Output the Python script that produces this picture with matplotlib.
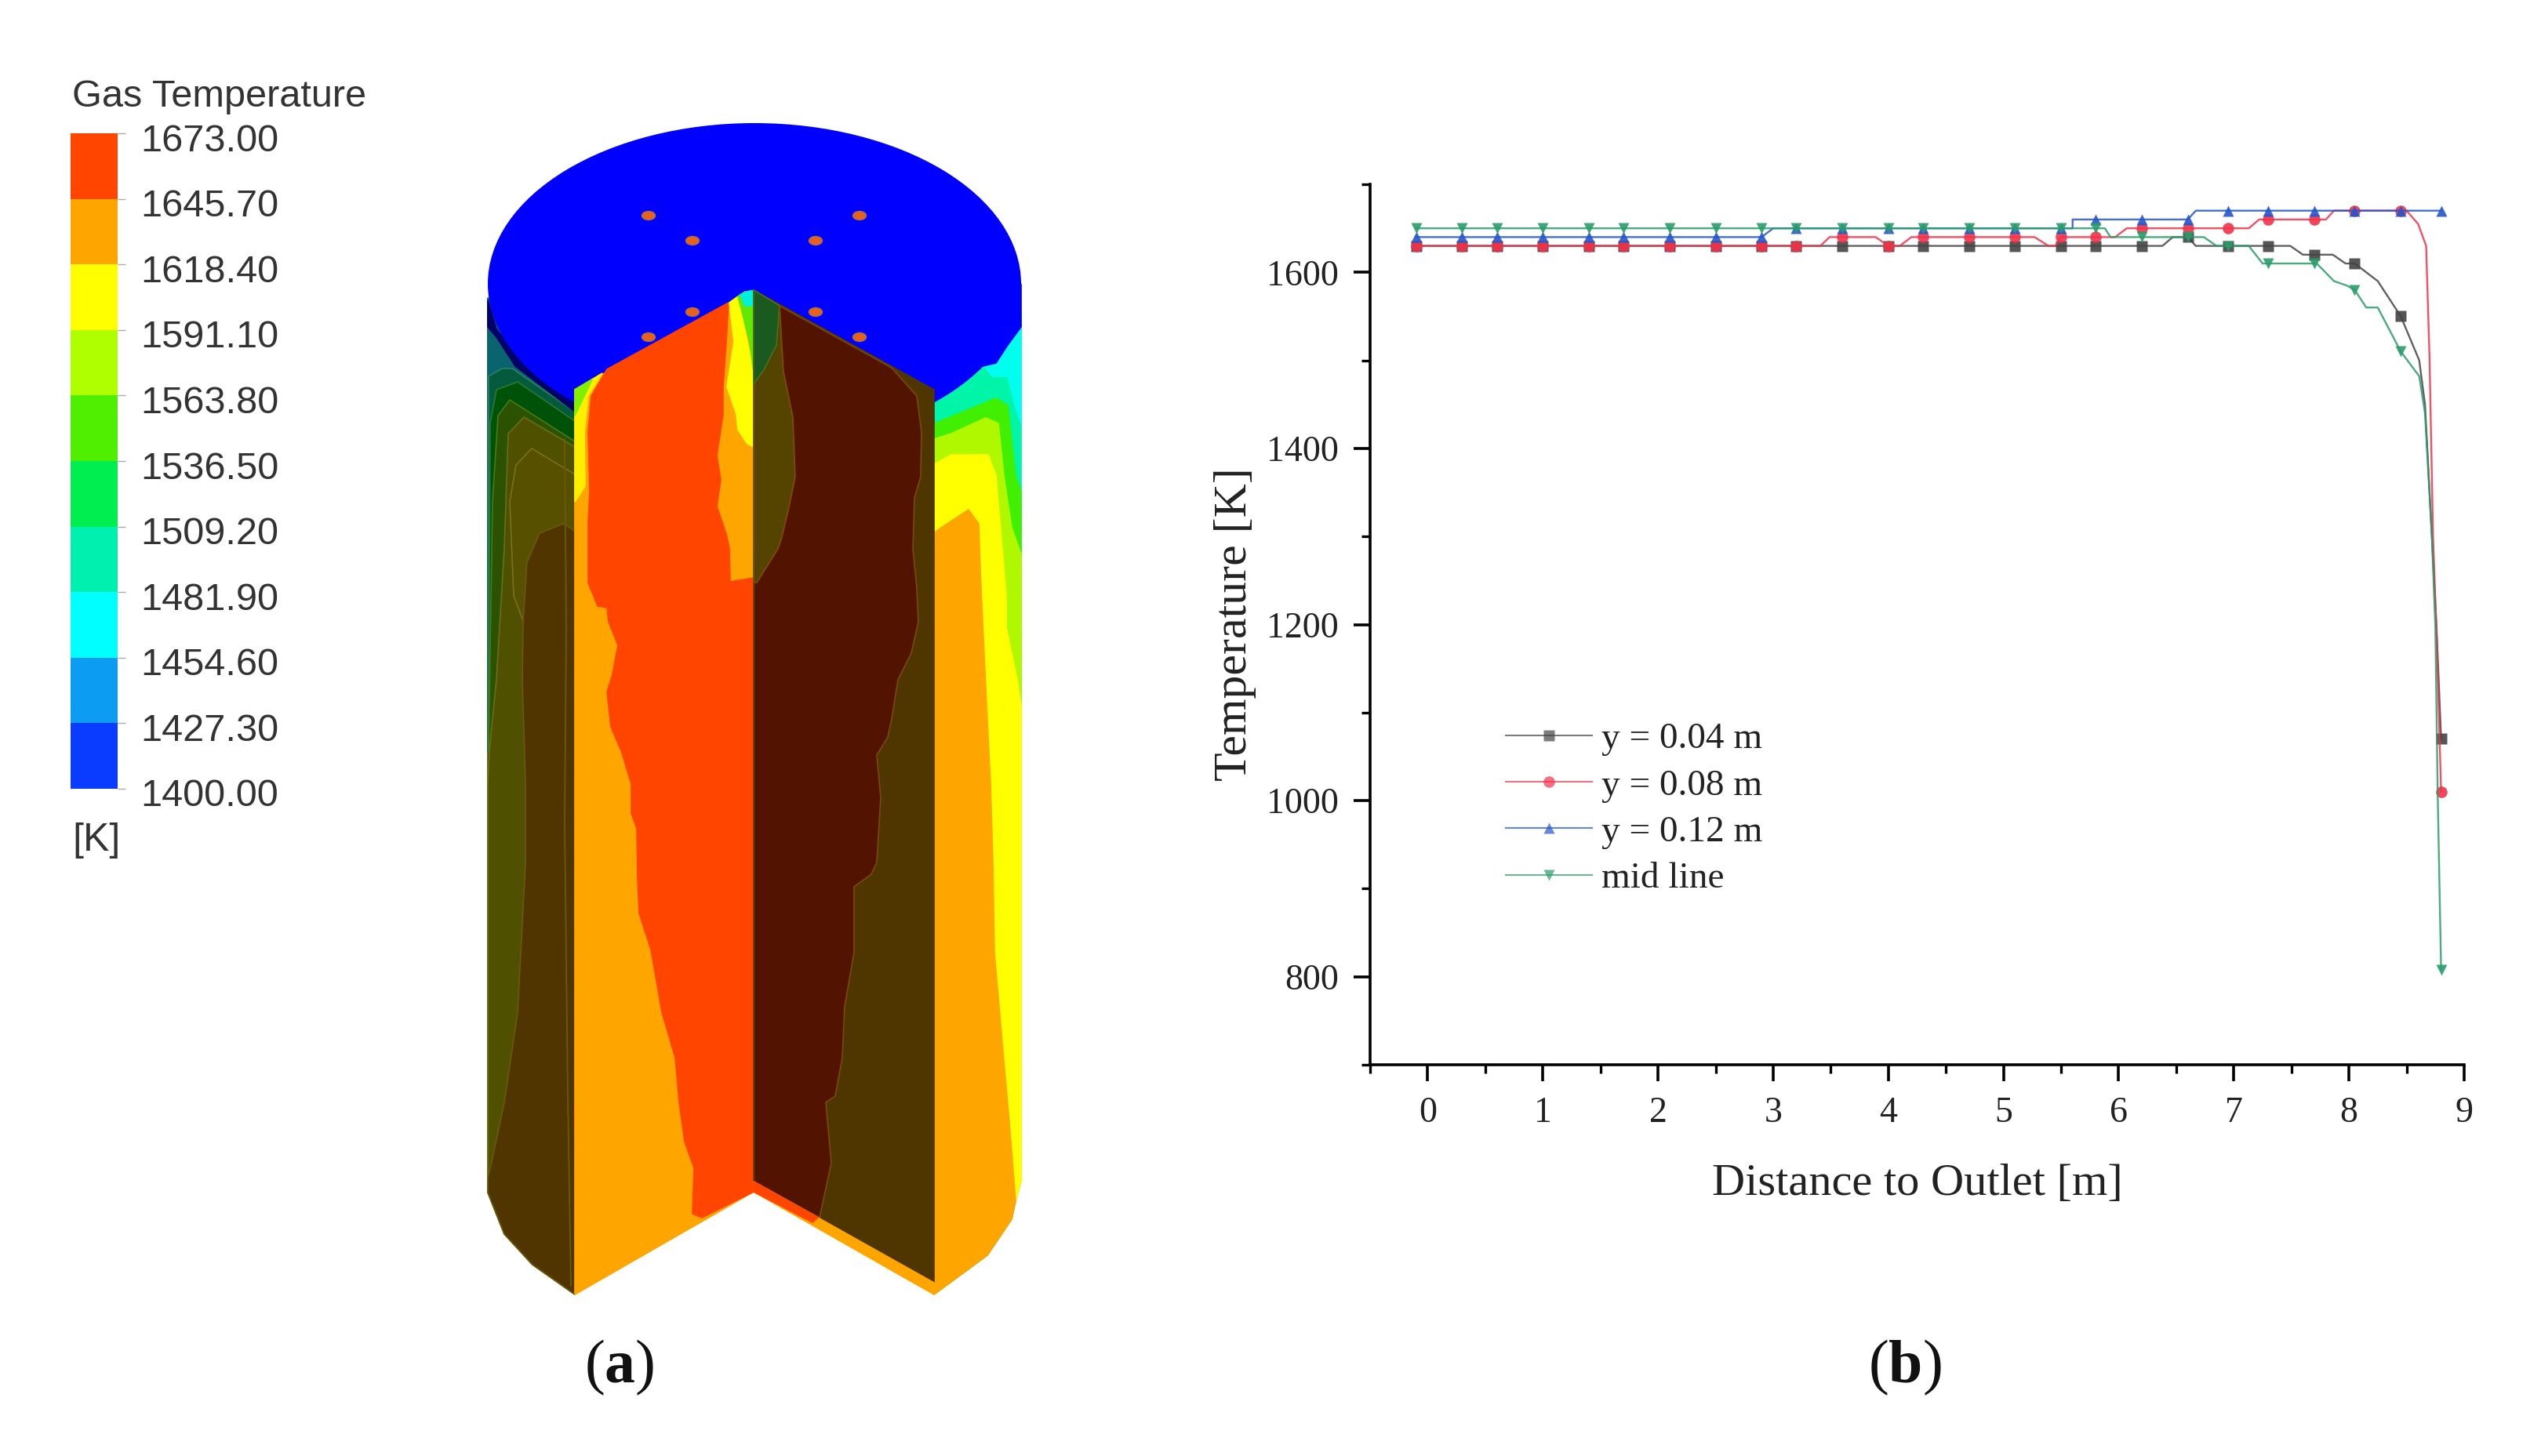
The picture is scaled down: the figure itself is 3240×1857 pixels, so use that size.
import matplotlib
matplotlib.use("Agg")
import matplotlib.pyplot as plt
from matplotlib.colors import ListedColormap, BoundaryNorm
from matplotlib.lines import Line2D
from matplotlib.patches import Ellipse, Polygon
from matplotlib.transforms import ScaledTranslation

W, H = 3241, 1857

plt.rcParams['mathtext.fontset'] = 'custom'
plt.rcParams['mathtext.bf'] = 'Liberation Serif:bold'
plt.rcParams['mathtext.rm'] = 'Liberation Serif'

# ---- colour legend
levels = [1400.0, 1427.3, 1454.6, 1481.9, 1509.2, 1536.5, 1563.8, 1591.1, 1618.4, 1645.7, 1673.0]
level_labels = ['1400.00', '1427.30', '1454.60', '1481.90', '1509.20', '1536.50',
                '1563.80', '1591.10', '1618.40', '1645.70', '1673.00']
band_colors = ['#0a3cff', '#0c9cf2', '#00ffff', '#00f0b0', '#00ee50',
               '#50ee00', '#b0ff00', '#ffff00', '#ffa500', '#ff4500']

# ---- line chart, marker positions
marker_x = [-0.1, 0.3, 0.6, 1.0, 1.4, 1.7, 2.1, 2.5, 2.9, 3.2, 3.6, 4.0, 4.3,
            4.7, 5.1, 5.5, 5.8, 6.2, 6.6, 6.95, 7.3, 7.7, 8.05, 8.45, 8.8]
black_t = [1630, 1630, 1630, 1630, 1630, 1630, 1630, 1630, 1630, 1630, 1630, 1630, 1630,
           1630, 1630, 1630, 1630, 1630, 1640, 1630, 1630, 1620, 1610, 1550, 1070]
red_t = [1630, 1630, 1630, 1630, 1630, 1630, 1630, 1630, 1630, 1630, 1640, 1630, 1640,
         1640, 1640, 1640, 1640, 1650, 1650, 1650, 1660, 1660, 1670, 1670, 1010]
blue_t = [1640, 1640, 1640, 1640, 1640, 1640, 1640, 1640, 1640, 1650, 1650, 1650, 1650,
          1650, 1650, 1650, 1660, 1660, 1660, 1670, 1670, 1670, 1670, 1670, 1670]
green_t = [1650, 1650, 1650, 1650, 1650, 1650, 1650, 1650, 1650, 1650, 1650, 1650, 1650,
           1650, 1650, 1650, 1650, 1640, 1640, 1630, 1610, 1610, 1580, 1510, 808]

# ---- line chart, the stepped lines between the markers
black_line_x = [-0.1, 6.38, 6.47, 6.6, 6.67, 7.49, 7.6, 7.86, 7.97, 8.05, 8.25, 8.45, 8.61, 8.66, 8.72, 8.76, 8.8]
black_line_t = [1630, 1630, 1640, 1640, 1630, 1630, 1620, 1620, 1610, 1610, 1590, 1550, 1500, 1450, 1300, 1197, 1070]
red_line_x = [-0.1, 3.41, 3.49, 3.89, 4.0, 4.1, 4.2, 5.27, 5.39, 5.45, 5.5, 5.97, 6.07, 7.13, 7.22,
              7.8, 7.87, 8.5, 8.6, 8.67, 8.7, 8.73, 8.76, 8.8]
red_line_t = [1630, 1630, 1640, 1640, 1630, 1630, 1640, 1640, 1630, 1630, 1640, 1640, 1650, 1650, 1660,
              1660, 1670, 1670, 1655, 1630, 1500, 1300, 1190, 1010]
blue_line_x = [-0.1, 2.9, 3.0, 5.6, 5.6, 6.6, 6.67, 8.8]
blue_line_t = [1640, 1640, 1650, 1650, 1660, 1660, 1670, 1670]
green_line_x = [-0.1, 5.88, 5.93, 6.74, 6.85, 7.13, 7.25, 7.72, 7.87, 7.98, 8.05, 8.15, 8.25,
                8.45, 8.61, 8.66, 8.72, 8.75, 8.77, 8.8]
green_line_t = [1650, 1650, 1640, 1640, 1630, 1630, 1610, 1610, 1590, 1585, 1580, 1560, 1560,
                1510, 1482, 1440, 1300, 1197, 1010, 808]

series_names = ['y = 0.04 m', 'y = 0.08 m', 'y = 0.12 m', 'mid line']

# ---- contour picture, outlines (pixels)
left_wall = [(622, 380), (733, 490), (733, 1651), (679, 1613), (643, 1574), (622, 1521)]
left_teal = [(622, 380), (733, 490), (733, 720), (622, 960)]
rim = [(622, 383), (633, 420), (667, 463), (733, 500), (733, 525), (657, 467), (633, 430), (622, 417)]
left_green1 = [(623, 480), (640, 470), (653, 470), (733, 525), (733, 800), (623, 960)]
left_green2 = [(625, 540), (633, 497), (660, 487), (733, 537), (733, 800), (623, 960)]
left_green3 = [(628, 640), (635, 530), (650, 510), (733, 563), (733, 800), (623, 957)]
left_olive = [(648, 553), (668, 532), (733, 570), (733, 1500), (622, 1500), (622, 1000), (624, 957),
              (633, 867), (643, 700)]
left_olive2 = [(658, 593), (678, 572), (733, 605), (733, 800), (670, 800), (655, 760), (650, 640)]
left_brown = [(672, 717), (688, 680), (718, 668), (733, 677), (733, 1651), (679, 1613), (643, 1574),
              (622, 1521), (622, 1502), (626, 1486), (643, 1406), (660, 1291), (670, 1100), (670, 1000),
              (666, 867), (667, 793)]
left_contour_x = [720, 722, 720, 724, 728]
left_contour_y = [560, 800, 1050, 1400, 1640]

right_wall = [(1191, 400), (1302, 400), (1302, 1506), (1295, 1532), (1290, 1555), (1259, 1601), (1191, 1651)]
right_cyan = [(1250, 460), (1302, 410), (1302, 540), (1295, 520), (1285, 480), (1265, 480)]
right_cap = [(1302, 362), (1302, 417), (1285, 440), (1270, 463), (1240, 470), (1262, 400)]
right_green = [(1192, 540), (1270, 508), (1285, 517), (1295, 607), (1302, 627), (1302, 1506), (1191, 1506)]
right_lime = [(1191, 560), (1213, 553), (1257, 533), (1273, 540), (1280, 607), (1290, 673), (1302, 707),
              (1302, 1506), (1191, 1506)]
right_yellow = [(1191, 592), (1213, 580), (1260, 580), (1270, 607), (1283, 760), (1283, 800), (1297, 867),
                (1302, 900), (1302, 1506), (1295, 1532), (1191, 1651)]
right_orange = [(1191, 680), (1200, 673), (1235, 650), (1248, 668), (1249, 700), (1251, 750), (1258, 900),
                (1263, 1000), (1266, 1100), (1268, 1215), (1278, 1330), (1288, 1444), (1295, 1532),
                (1290, 1555), (1259, 1601), (1191, 1651)]

bright_panel = [(733, 497), (961, 370), (961, 1520), (733, 1651)]
bright_red = [(774, 471), (929, 386), (926, 436), (922, 493), (922, 528), (914, 581), (919, 612), (914, 646),
              (926, 681), (930, 700), (931, 742), (961, 737), (961, 1520), (895, 1553), (883, 1548), (885, 1490),
              (873, 1456), (866, 1406), (861, 1349), (844, 1291), (830, 1211), (815, 1165), (813, 1120),
              (812, 1057), (805, 1037), (805, 1000), (793, 960), (779, 927), (774, 883), (781, 860), (788, 823),
              (776, 793), (774, 775), (762, 773), (750, 743), (750, 666), (752, 627), (750, 551), (754, 505)]
bright_yellow = [(930, 386), (941, 378), (961, 475), (961, 570), (953, 566), (941, 548), (939, 528), (927, 493), (936, 436)]
bright_lime = [(941, 378), (950, 372), (961, 372), (961, 475), (956, 436)]
bright_cyan = [(944, 376), (956, 371), (961, 371), (961, 390), (950, 390)]
edge_yellow = [(733, 497), (768, 476), (750, 505), (745, 551), (746, 620), (733, 640)]
edge_lime = [(733, 497), (755, 484), (738, 520), (733, 530)]

dark_panel = [(961, 370), (1191, 497), (1191, 1636), (961, 1507)]
dark_green = [(961, 370), (994, 390), (990, 440), (975, 470), (961, 490)]
dark_olive = [(961, 370), (994, 390), (999, 474), (1011, 532), (1014, 608), (1006, 647), (997, 685), (992, 700),
              (965, 743), (961, 743)]
dark_red = [(994, 390), (1137, 469), (1169, 505), (1175, 551), (1174, 608), (1166, 635), (1164, 700), (1169, 750),
            (1171, 793), (1162, 833), (1145, 867), (1137, 917), (1132, 940), (1118, 963), (1123, 1017), (1118, 1100),
            (1111, 1115), (1089, 1131), (1089, 1215), (1077, 1284), (1074, 1349), (1065, 1398), (1053, 1406),
            (1060, 1483), (1045, 1553), (961, 1507), (961, 743), (965, 743), (992, 700), (997, 685), (1006, 647),
            (1014, 608), (1011, 532), (999, 474)]
strip_orange = [(961, 1507), (1191, 1636), (1191, 1651), (961, 1520)]
strip_red = [(961, 1507), (1043, 1553), (1036, 1559), (961, 1520)]
inlet_x = [827, 1096, 883, 1040, 883, 1040, 827, 1096]
inlet_y = [275, 275, 307, 307, 398, 398, 430, 430]


def box(x0, y0, x1, y1):
    '''axes rectangle from image pixels'''
    return [x0 / W, 1 - y1 / H, (x1 - x0) / W, (y1 - y0) / H]


def region(ax, pts, color, edge=None):
    ax.add_patch(Polygon(pts, closed=True, facecolor=color,
                         edgecolor=edge if edge else color, linewidth=1.2))


fig = plt.figure(figsize=(W / 100, H / 100), dpi=100, facecolor='white')

# picture and free text, in image pixels
pic = fig.add_axes([0, 0, 1, 1])
pic.set_xlim(0, W)
pic.set_ylim(H, 0)
pic.axis('off')

region(pic, left_wall, '#4f5000')
region(pic, left_teal, '#0a6470')
region(pic, left_green1, '#045a3c', '#2a8060')
region(pic, left_green2, '#005208', '#2a7a30')
region(pic, left_green3, '#2a5200', '#4a7a10')
region(pic, left_olive, '#4f5000', '#6a7010')
region(pic, left_olive2, '#575000', '#78701a')
region(pic, left_brown, '#503500', '#6a5a08')
region(pic, rim, '#000066')
pic.plot(left_contour_x, left_contour_y, color='#6a5a08', lw=1.3)

region(pic, right_wall, '#00f5a8')
region(pic, right_cyan, '#00ffee')
region(pic, right_green, '#40f000')
region(pic, right_lime, '#b0f800')
region(pic, right_yellow, '#ffff00')
region(pic, right_orange, '#ffa500')

pic.add_patch(Ellipse((962, 362), 680, 410, facecolor='#0000ff', edgecolor='none'))
region(pic, right_cap, '#0000ff')
for ix, iy in zip(inlet_x, inlet_y):
    pic.add_patch(Ellipse((ix, iy), 17, 11, facecolor='#e8601a', edgecolor='#a07050', linewidth=1))

region(pic, bright_panel, '#ffa500')
region(pic, edge_yellow, '#ffee00')
region(pic, edge_lime, '#80f000')
region(pic, bright_red, '#ff4500')
region(pic, bright_yellow, '#ffff00')
region(pic, bright_lime, '#60e800')
region(pic, bright_cyan, '#00f0e0')

region(pic, dark_panel, '#4f3500')
region(pic, dark_olive, '#554400', '#7a5a10')
region(pic, dark_green, '#1a5a20', '#4a7018')
region(pic, dark_red, '#521400', '#7a4a08')
region(pic, strip_orange, '#ffa500')
region(pic, strip_red, '#ff4500')

sans = 'Liberation Sans'
pic.text(92, 124, 'Gas Temperature', family=sans, fontsize=35, color='#333333', va='center', ha='left')
pic.text(92, 1072, '[K]', family=sans, fontsize=36, color='#333333', va='center', ha='left')
pic.text(790, 1744, r'($\mathbf{a}$)', family='Liberation Serif', fontsize=56, color='#111111', va='center', ha='center')
pic.text(2429, 1744, r'($\mathbf{b}$)', family='Liberation Serif', fontsize=56, color='#111111', va='center', ha='center')

# colour legend
cax = fig.add_axes(box(90, 170, 150, 1006))
cmap = ListedColormap(band_colors)
norm = BoundaryNorm(levels, cmap.N)
mids = [[(a + b) / 2] for a, b in zip(levels[:-1], levels[1:])]
cax.pcolormesh([0, 1], levels, mids, cmap=cmap, norm=norm)
cax.set_xticks([])
cax.set_ylim(levels[0], levels[-1])
cax.yaxis.tick_right()
cax.set_yticks(levels, level_labels, family=sans, fontsize=35, color='#333333')
cax.tick_params(axis='y', length=7, width=1, color='#aaaaaa', pad=14)
shift = ScaledTranslation(0, -5 / 100, fig.dpi_scale_trans)
for lab in cax.get_yticklabels():
    lab.set_transform(lab.get_transform() + shift)
for s in cax.spines.values():
    s.set_visible(False)

# line chart
serif = 'Liberation Serif'
ax = fig.add_axes(box(1747, 235, 3142, 1358))
ax.patch.set_alpha(0)
ax.set_xlim(-0.5, 9)
ax.set_ylim(700, 1700)

styles = [('#444444', 's', black_line_x, black_line_t, black_t),
          ('#f0324a', 'o', red_line_x, red_line_t, red_t),
          ('#2355cc', '^', blue_line_x, blue_line_t, blue_t),
          ('#2a9c6a', 'v', green_line_x, green_line_t, green_t)]
handles = []
for (col, mark, lx, lt, mt), name in zip(styles, series_names):
    ax.plot(lx, lt, color=col, lw=1.7, alpha=0.85)
    ax.plot(marker_x, mt, ls='none', marker=mark, ms=10.5, color=col, mec='none', alpha=0.9)
    handles.append(Line2D([], [], color=col, lw=1.5, alpha=0.7, marker=mark, ms=10.5, mec='none', label=name))

leg = ax.legend(handles=handles, loc='upper left', bbox_to_anchor=(0.124, 0.389), frameon=False,
                prop={'family': serif, 'size': 34}, numpoints=1, borderpad=0, borderaxespad=0,
                handlelength=2.33, handletextpad=0.25, labelspacing=0.345)
for t in leg.get_texts():
    t.set_color('#222222')

ax.spines['top'].set_visible(False)
ax.spines['right'].set_visible(False)
ax.spines['left'].set_linewidth(2.6)
ax.spines['bottom'].set_linewidth(2.6)
ax.set_xticks(range(0, 10))
ax.set_xticks([x + 0.5 for x in range(-1, 9)], minor=True)
ax.set_yticks([800, 1000, 1200, 1400, 1600])
ax.set_yticks([700, 900, 1100, 1300, 1500, 1700], minor=True)
ax.tick_params(which='major', length=15, width=2.6, pad=14, labelsize=33, labelfontfamily=serif, labelcolor='#222222')
ax.tick_params(which='minor', length=8, width=2.4)
ax.set_xlabel('Distance to Outlet [m]', family=serif, fontsize=42, color='#222222', labelpad=31)
ax.set_ylabel('Temperature [K]', family=serif, fontsize=43, color='#222222', labelpad=9)

fig.savefig('out.png', dpi=100)
